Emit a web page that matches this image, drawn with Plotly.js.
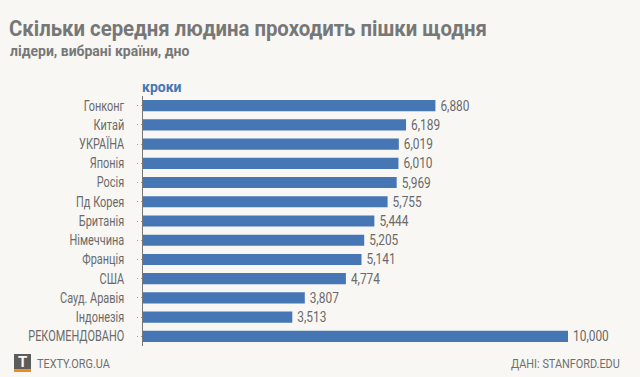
<!DOCTYPE html>
<html><head><meta charset="utf-8">
<script src="https://cdn.plot.ly/plotly-3.0.1.min.js"></script>
<style>html,body{margin:0;padding:0;background:#f8f7f4}</style></head>
<body><div id="chart" style="width:640px;height:377px"></div>
<script>
const categories = ["Гонконг","Китай","УКРАЇНА","Японія","Росія","Пд Корея","Британія","Німеччина","Франція","США","Сауд. Аравія","Індонезія","РЕКОМЕНДОВАНО"];
const steps = [6880,6189,6019,6010,5969,5755,5444,5205,5141,4774,3807,3513,10000];
const W=640,H=377,L=143,T=96,B=346;
const px=x=>(x-L)/(W-L), py=y=>(B-y)/(B-T);
const gray='#6f6f6f';
const note=(x,y,anchor,text,family,size,color)=>({xref:'paper',yref:'paper',x:px(x),y:py(y),xanchor:anchor,yanchor:'middle',showarrow:false,text,font:{family,size,color},borderpad:0,borderwidth:0});
const layout={
  width:W,height:H,paper_bgcolor:'#f8f7f4',plot_bgcolor:'#f8f7f4',showlegend:false,
  margin:{l:L,r:0,t:T,b:H-B,pad:0},
  font:{family:'"Noto Sans",sans-serif',color:gray},
  bargap:0.42,
  xaxis:{range:[0,11694],visible:false,fixedrange:true},
  yaxis:{type:'category',autorange:false,range:[12.5,-0.5],categoryorder:'array',categoryarray:categories,
    showline:true,linecolor:'#777',linewidth:1,showgrid:false,zeroline:false,
    ticks:'outside',ticklen:6,tickcolor:'#9a9a9a',tickwidth:1,ticklabelstandoff:9,
    tickfont:{family:'Roboto,sans-serif',size:14,color:'#6a6a6a'}},
  annotations:[
    note(9,28,'left','<b>Скільки середня людина проходить пішки щодня</b>','Roboto',22,'#777'),
    note(10,51,'left','<b>лідери, вибрані країни, дно</b>','Roboto',14,'#777'),
    note(142,87,'left','<b>кроки</b>','Roboto',14,'#4676b4'),
    note(37,363.5,'left','TEXTY.ORG.UA','Roboto',12.5,'#6f6f6f'),
    note(22.5,362,'center','<b>T</b>','Roboto',15,'#f8f7f4'),
    note(621,363.5,'right','ДАНІ: STANFORD.EDU','Roboto',12.5,'#6f6f6f')
  ],
  shapes:[
    {type:'rect',xref:'paper',yref:'paper',x0:px(14),x1:px(31),y0:py(354),y1:py(369.5),fillcolor:'#5c5c5c',line:{width:0}},
    {type:'rect',xref:'paper',yref:'paper',x0:px(14),x1:px(31),y0:py(369.5),y1:py(372),fillcolor:'#f08a1d',line:{width:0}}
  ]
};
Plotly.newPlot('chart',[{type:'bar',orientation:'h',y:categories,x:steps,
  marker:{color:'#4676b4'},
  text:steps.map(v=>v.toLocaleString('en-US')),textposition:'outside',cliponaxis:false,constraintext:'none',
  textfont:{family:'Roboto,sans-serif',size:14,color:'#6a6a6a'},hoverinfo:'skip'}],
  layout,{displayModeBar:false,staticPlot:true}).then(gd=>{
    const squeeze=(t,k)=>{
      const w=t.getComputedTextLength();
      t.setAttribute('lengthAdjust','spacingAndGlyphs');
      t.setAttribute('textLength',w*k);
    };
    const moveTo=(t,left)=>{
      const r=t.getBoundingClientRect();
      t.setAttribute('x',parseFloat(t.getAttribute('x')||0)+left-r.left);
    };
    gd.querySelectorAll('.ytick text').forEach(t=>squeeze(t,0.78));
    gd.querySelectorAll('text.bartext').forEach(t=>{
      const left=t.getBoundingClientRect().left+2;
      squeeze(t,0.85); moveTo(t,left);
    });
    gd.querySelectorAll('.annotation-text').forEach(t=>{
      const s=t.textContent;
      if(s.startsWith('Скільки')){squeeze(t,0.925);moveTo(t,9);}
      if(s.startsWith('TEXTY')){squeeze(t,0.87);moveTo(t,37);}
      if(s.startsWith('ДАНІ')){squeeze(t,0.87);moveTo(t,511);}
    });
    gd.querySelectorAll('path.ytick').forEach(p=>{p.style.strokeDasharray='1 3';});
  });
</script></body></html>
